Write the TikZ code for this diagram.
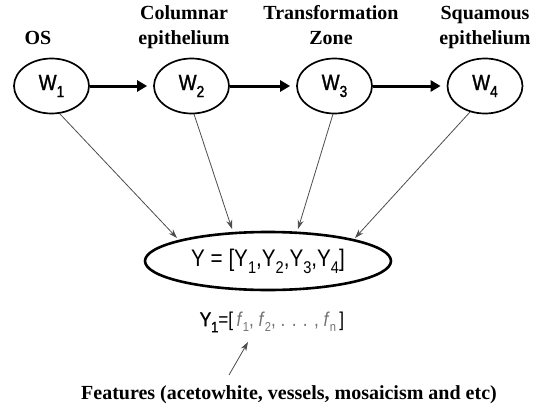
\documentclass[tikz,border=0pt]{standalone}
\usepackage{fontspec}
\setmainfont{Liberation Serif}
\newfontfamily\helvn[FakeStretch=0.86]{Liberation Sans}
\newfontfamily\helvw[FakeStretch=0.86,FakeBold=1.4]{Liberation Sans}
\newfontfamily\helv{Liberation Sans}
\usetikzlibrary{arrows.meta,shapes.geometric}
\newcommand{\wsub}[1]{\raisebox{-7pt}{\fontsize{16}{16}\selectfont #1}}
\newcommand{\ysub}[1]{\raisebox{-7pt}{\fontsize{17}{17}\selectfont #1}}
\newcommand{\fsub}[1]{\raisebox{-5pt}{\fontsize{13}{13}\selectfont #1}}
\tikzset{
  wnode/.style={draw, line width=1.7pt, ellipse, minimum width=75pt, minimum height=55pt, inner sep=0pt, font=\helvw\fontsize{22}{22}\selectfont},
  ttl/.style={font=\bfseries\fontsize{20}{20}\selectfont, anchor=base, inner sep=0pt},
  thick arr/.style={line width=3pt, shorten >=6pt, -{Triangle[length=10pt,width=11pt]}},
  thin arr/.style={line width=0.8pt, draw=black!70, -{Stealth[length=9pt,width=6pt]}}
}
\begin{document}
\begin{tikzpicture}[x=1pt,y=-1pt]
\useasboundingbox (0,0) rectangle (538,404);
\node[wnode] (w1) at (51.5,86) {W\wsub{1}};
\node[wnode] (w2) at (191.5,86) {W\wsub{2}};
\node[wnode] (w3) at (334.5,86) {W\wsub{3}};
\node[wnode] (w4) at (485,86) {W\wsub{4}};
\node[ttl] (t1) at (38,45) {OS};
\node[ttl] (t2a) at (184,20) {Columnar};
\node[ttl] (t2b) at (184,45) {epithelium};
\node[ttl] (t3a) at (331,20) {Transformation};
\node[ttl] (t3b) at (331,45) {Zone};
\node[ttl] (t4a) at (485,20) {Squamous};
\node[ttl] (t4b) at (485,45) {epithelium};
\draw[thick arr] (w1) -- (w2);
\draw[thick arr] (w2) -- (w3);
\draw[thick arr] (w3) -- (w4);
\node[draw, line width=2.6pt, ellipse, minimum width=246pt, minimum height=58pt, inner sep=0pt, font=\helvn\fontsize{24}{24}\selectfont] (y) at (268,261) {Y = [Y\ysub{1},Y\ysub{2},Y\ysub{3},Y\ysub{4}]};
\coordinate (s1) at (60,114);
\coordinate (s2) at (194,114);
\coordinate (s3) at (333,114);
\coordinate (s4) at (470,112);
\coordinate (e1) at (177,238);
\coordinate (e2) at (232,229);
\coordinate (e3) at (298,229);
\coordinate (e4) at (355,238);
\draw[thin arr] (s1) -- (e1);
\draw[thin arr] (s2) -- (e2);
\draw[thin arr] (s3) -- (e3);
\draw[thin arr] (s4) -- (e4);
\node[font=\helvn\fontsize{20}{20}\selectfont, inner sep=1pt] (f) at (272,322) {{\helvw Y\raisebox{-6pt}{\fontsize{15}{15}\selectfont 1}}=[\,\textcolor{black!55}{\textit{f}\fsub{1}, \textit{f}\fsub{2}, . . . , \textit{f}\fsub{n}}\,]};
\node[ttl] (feat) at (289,399) {Features (acetowhite, vessels, mosaicism and etc)};
\coordinate (a0) at (229,375);
\coordinate (a1) at (248,342);
\draw[thin arr] (a0) -- (a1);
\end{tikzpicture}
\end{document}
